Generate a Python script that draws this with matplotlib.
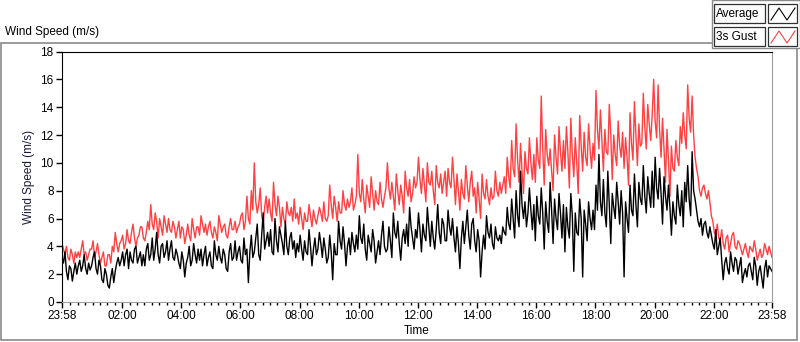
import numpy as np
import matplotlib
matplotlib.use("Agg")
import matplotlib.pyplot as plt
from matplotlib.patches import Rectangle
from matplotlib.lines import Line2D

plt.rcParams['font.family'] = ['Liberation Sans', 'DejaVu Sans']

######### data, one value every 3 minutes from 23:58 (minutes from 00:00)
t = np.arange(-2, 1439, 3)

average = [
    3.2, 2.8, 3.6, 2.2, 1.6, 2.6, 2.4, 1.5, 2.2, 2.8, 2.0, 2.6, 3.0, 2.2, 2.6, 3.4, 2.4, 2.0, 2.8, 2.3,  # 00
    2.6, 3.2, 3.6, 2.4, 2.0, 3.0, 2.6, 1.6, 1.4, 2.4, 2.0, 1.2, 1.0, 1.8, 2.4, 1.4, 2.2, 2.8, 3.2, 2.6,  # 01
    3.0, 3.6, 2.6, 3.4, 3.8, 2.4, 3.6, 3.0, 2.8, 3.8, 4.0, 2.8, 3.2, 3.6, 2.6, 3.4, 2.6, 3.8, 4.2, 3.0,  # 02
    3.4, 4.6, 3.0, 3.8, 5.0, 3.4, 2.8, 4.0, 4.2, 3.2, 3.6, 4.4, 3.0, 3.8, 4.4, 3.2, 3.0, 3.8, 3.4, 2.8,  # 03
    2.4, 3.6, 3.0, 1.8, 2.8, 3.2, 4.0, 2.6, 3.0, 4.2, 3.4, 2.8, 3.8, 3.0, 3.8, 2.6, 3.4, 4.0, 2.6, 3.2,  # 04
    3.6, 2.6, 2.4, 4.4, 3.4, 3.0, 4.0, 3.2, 2.8, 3.8, 3.4, 2.4, 2.2, 3.6, 4.2, 3.0, 3.2, 4.4, 3.0, 3.6,  # 05
    4.0, 3.0, 2.8, 4.6, 3.4, 3.8, 1.4, 3.6, 4.8, 3.2, 3.6, 4.6, 5.6, 3.4, 3.0, 4.8, 6.4, 3.8, 4.4, 5.0,  # 06
    4.0, 5.2, 3.6, 3.4, 6.0, 4.4, 3.6, 5.4, 4.8, 4.2, 3.4, 5.8, 4.0, 3.4, 4.6, 5.0, 3.8, 4.4, 3.2, 4.2,  # 07
    3.6, 4.8, 3.8, 3.0, 4.4, 3.6, 3.4, 5.2, 4.0, 2.6, 3.8, 4.6, 3.4, 3.8, 5.0, 4.2, 3.2, 4.6, 3.8, 2.8,  # 08
    3.2, 4.8, 3.6, 1.6, 4.2, 3.4, 3.4, 5.8, 4.4, 3.8, 5.4, 4.2, 2.6, 4.0, 4.6, 3.4, 5.0, 4.2, 3.6, 4.8,  # 09
    3.8, 6.2, 4.6, 4.2, 5.6, 3.8, 3.0, 4.8, 4.2, 3.6, 5.2, 4.4, 2.8, 3.6, 4.4, 3.4, 4.8, 5.8, 4.0, 3.6,  # 10
    3.8, 5.4, 4.4, 3.2, 6.4, 5.0, 4.6, 5.8, 4.2, 3.0, 4.6, 5.2, 4.2, 5.6, 4.0, 6.8, 5.4, 4.6, 3.8, 5.2,  # 11
    4.6, 6.4, 5.2, 3.6, 5.6, 4.8, 4.4, 6.8, 5.4, 4.0, 5.8, 4.6, 3.8, 5.2, 7.0, 5.0, 4.2, 6.0, 5.6, 4.4,  # 12
    4.4, 6.6, 5.4, 4.8, 6.0, 4.6, 3.6, 5.4, 4.2, 2.4, 4.6, 5.8, 4.2, 5.4, 6.6, 4.8, 3.8, 5.6, 6.0, 4.4,  # 13
    3.6, 5.2, 4.4, 1.8, 3.6, 4.8, 3.8, 6.2, 5.0, 4.6, 5.6, 4.2, 3.8, 5.4, 4.6, 4.4, 4.8, 4.2, 5.4, 5.0,  # 14
    4.8, 6.8, 5.6, 5.2, 7.4, 6.0, 4.6, 8.0, 6.2, 5.4, 9.4, 7.0, 6.0, 7.2, 5.4, 6.4, 8.2, 6.6, 5.2, 7.0,  # 15
    4.4, 7.6, 6.2, 5.6, 8.2, 6.4, 3.8, 7.2, 5.8, 5.0, 8.6, 6.6, 4.2, 7.4, 6.0, 5.2, 7.8, 6.4, 4.6, 7.0,  # 16
    3.6, 6.8, 5.4, 4.6, 7.8, 6.2, 2.2, 6.4, 5.0, 4.8, 7.4, 6.0, 1.8, 6.6, 5.6, 4.4, 7.2, 6.0, 5.2, 6.6,  # 17
    5.2, 8.4, 6.6, 10.6, 7.2, 6.2, 8.8, 6.4, 5.4, 9.4, 7.0, 4.2, 7.8, 6.8, 6.0, 8.6, 7.2, 5.6, 8.0, 6.4,  # 18
    1.8, 7.2, 6.0, 5.0, 8.4, 6.6, 6.2, 9.2, 7.0, 5.4, 8.6, 7.4, 7.0, 9.8, 7.6, 6.4, 9.0, 7.8, 6.8, 9.4,  # 19
    6.8, 10.4, 8.2, 7.4, 9.6, 7.8, 5.6, 9.0, 7.6, 6.6, 8.4, 6.8, 4.8, 7.2, 6.2, 5.6, 8.4, 7.0, 6.2, 8.0,  # 20
    5.4, 8.6, 7.2, 9.8, 7.4, 6.2, 10.8, 8.0, 7.4, 6.6, 5.8, 5.4, 6.0, 4.8, 5.6, 5.8, 5.0, 4.6, 5.4, 4.8,  # 21
    4.2, 3.8, 5.2, 3.4, 4.0, 4.6, 3.0, 1.6, 2.8, 3.2, 2.4, 2.0, 3.6, 2.8, 2.2, 3.2, 3.0, 2.0, 2.6, 3.2,  # 22
    1.4, 2.0, 2.4, 1.8, 2.6, 2.8, 2.2, 1.6, 3.2, 2.6, 1.2, 2.2, 2.6, 1.8, 1.0, 2.4, 3.0, 1.8, 2.6, 2.4,  # 23
    2.2]

gust = [
    4.2, 3.8, 3.4, 4.0, 3.2, 3.0, 3.8, 3.4, 2.8, 3.6, 3.2, 3.6, 3.2, 3.8, 4.4, 3.4, 3.6, 3.0, 3.4, 3.8,
    3.8, 4.4, 3.2, 3.6, 4.2, 3.4, 2.8, 3.2, 3.6, 2.6, 2.6, 3.4, 3.4, 2.8, 4.0, 3.6, 5.0, 4.2, 3.6, 4.2,
    4.4, 4.8, 3.8, 4.2, 5.2, 4.4, 4.2, 5.0, 5.6, 4.6, 4.0, 4.6, 4.8, 5.4, 5.4, 4.6, 4.4, 5.0, 5.8, 5.2,
    7.0, 5.6, 5.2, 6.4, 5.8, 4.6, 6.0, 5.4, 4.8, 6.2, 5.6, 5.0, 6.0, 5.2, 5.0, 5.8, 5.4, 4.6, 5.2, 5.8,
    4.6, 5.4, 5.2, 4.2, 4.8, 5.6, 4.8, 4.4, 6.0, 5.2, 4.6, 5.4, 5.4, 4.8, 6.2, 5.6, 5.0, 5.6, 4.8, 5.4,
    5.8, 5.0, 4.6, 5.4, 5.0, 4.4, 6.2, 5.6, 5.0, 5.4, 5.6, 4.8, 4.6, 5.4, 6.0, 5.2, 5.2, 5.8, 5.0, 5.4,
    5.6, 6.2, 6.4, 5.2, 5.8, 7.6, 6.0, 5.6, 8.0, 6.6, 10.0, 7.2, 6.4, 7.0, 8.2, 6.2, 5.6, 6.8, 7.6, 6.4,
    7.4, 6.4, 5.8, 8.6, 7.0, 6.2, 7.6, 6.8, 5.4, 6.8, 6.0, 5.6, 7.2, 6.4, 6.2, 6.8, 5.8, 7.4, 6.0, 6.4,
    5.6, 6.8, 6.0, 5.2, 6.4, 5.8, 5.8, 7.0, 6.2, 5.4, 6.6, 6.0, 5.6, 6.2, 6.8, 6.4, 5.8, 7.2, 6.0, 5.8,
    6.2, 8.4, 7.0, 6.0, 7.6, 6.8, 5.8, 7.2, 6.4, 6.4, 8.0, 7.0, 6.6, 7.4, 6.8, 7.2, 8.2, 6.6, 7.0, 7.6,
    10.6, 7.8, 7.2, 8.8, 7.4, 6.4, 8.4, 7.6, 6.8, 9.0, 7.8, 6.6, 8.0, 7.2, 7.0, 8.6, 7.4, 6.8, 7.6, 8.2,
    10.0, 8.2, 7.4, 8.6, 7.6, 6.6, 9.2, 8.0, 7.0, 8.4, 7.6, 6.4, 9.4, 8.2, 7.6, 8.8, 7.2, 7.8, 9.0, 8.2,
    8.6, 10.4, 8.8, 7.8, 9.6, 8.4, 7.2, 10.0, 8.6, 8.4, 9.4, 8.0, 7.0, 9.8, 8.6, 8.2, 9.2, 7.8, 8.6, 9.4,
    7.6, 9.6, 8.6, 8.2, 10.4, 8.8, 7.0, 9.2, 8.0, 6.6, 8.8, 7.8, 7.4, 9.8, 8.4, 7.2, 8.6, 9.4, 7.6, 8.2,
    6.4, 8.6, 7.4, 6.0, 9.2, 7.8, 7.4, 8.8, 7.6, 7.0, 8.2, 7.4, 7.6, 9.4, 8.0, 7.6, 8.6, 7.8, 8.4, 9.0,
    7.8, 10.4, 9.0, 8.2, 11.6, 9.6, 9.0, 12.8, 10.2, 8.6, 11.4, 9.4, 7.8, 10.8, 9.6, 9.2, 11.8, 10.0, 8.8, 10.6,
    8.6, 11.8, 10.2, 9.6, 14.8, 11.0, 8.4, 12.4, 10.6, 9.8, 11.0, 9.4, 8.0, 12.0, 10.4, 9.2, 12.6, 10.8, 9.4, 11.6,
    9.6, 12.6, 10.8, 8.2, 13.2, 10.6, 9.0, 11.8, 10.0, 7.8, 13.4, 11.2, 9.4, 12.2, 10.4, 9.8, 12.8, 11.0, 9.6, 11.4,
    10.2, 15.2, 12.4, 11.0, 13.8, 11.6, 9.4, 12.4, 10.8, 10.6, 14.2, 12.0, 8.8, 12.0, 10.6, 9.8, 13.0, 11.2, 10.4, 12.2,
    9.6, 11.8, 10.4, 8.4, 13.6, 11.4, 10.2, 14.4, 12.0, 9.8, 12.8, 11.2, 11.4, 15.0, 12.6, 11.0, 14.2, 12.8, 11.6, 13.4,
    16.0, 13.0, 11.8, 15.6, 12.4, 10.4, 13.2, 11.0, 8.6, 12.4, 10.2, 7.6, 11.2, 9.6, 9.4, 11.6, 10.4, 9.8, 12.6, 11.4,
    13.6, 12.0, 11.0, 15.6, 13.2, 12.2, 14.8, 12.0, 10.4, 9.6, 9.0, 8.0, 7.6, 8.2, 8.4, 7.8, 7.4, 8.0, 7.2, 6.2,
    5.8, 5.0, 4.8, 5.6, 4.6, 4.4, 5.2, 4.2, 3.8, 4.6, 4.8, 3.6, 4.2, 4.8, 5.0, 4.0, 3.8, 4.4, 4.2, 3.8,
    3.4, 3.8, 4.2, 3.6, 3.2, 4.0, 3.8, 3.6, 4.4, 3.8, 3.0, 3.4, 3.8, 3.2, 3.4, 4.2, 3.8, 3.4, 4.0, 3.6,
    3.2]

tick_pos = [-2, 120, 240, 360, 480, 600, 720, 840, 960, 1080, 1200, 1320, 1438]
tick_lab = ['23:58', '02:00', '04:00', '06:00', '08:00', '10:00', '12:00',
            '14:00', '16:00', '18:00', '20:00', '22:00', '23:58']

W, H = 800, 342
fig = plt.figure(figsize=(W/100, H/100), dpi=100)

def fx(px):
    return px / W
def fy(py):
    return 1 - py / H

ax = fig.add_axes([fx(62), fy(302), fx(772) - fx(62), fy(51.5) - fy(302)])
ax.plot(t, gust, color='#ff4040', lw=1.0)
ax.plot(t, average, color='black', lw=1.0)

ax.set_xlim(-2, 1438)
ax.set_ylim(0, 18)
ax.set_yticks(range(0, 19, 2))
ax.set_xticks(tick_pos)
ax.set_xticklabels(tick_lab)
ax.set_xticks(np.arange(15, 1438, 15), minor=True)
ax.tick_params(axis='both', which='major', length=4, width=1, labelsize=8.5, pad=2)
ax.tick_params(axis='x', which='minor', length=2.5, width=1)
for s in ['top', 'left']:
    ax.spines[s].set_color('black')
for s in ['right', 'bottom']:
    ax.spines[s].set_color('#a0a0a0')
ax.set_xlabel('Time', fontsize=8.5, labelpad=2)
ax.set_ylabel('Wind Speed (m/s)', fontsize=8.5, color='#1a1a3a', labelpad=4)

# outer panel frame
fig.add_artist(Rectangle((fx(1), fy(340)), fx(796), fy(43) - fy(340),
                         transform=fig.transFigure, fill=False,
                         edgecolor='#8a8a8a', lw=1.2))
fig.text(fx(5), fy(32), 'Wind Speed (m/s)', fontsize=8.5, va='center', ha='left')

# legend panel
fig.add_artist(Rectangle((fx(712), fy(48)), fx(88), fy(0) - fy(48),
                         transform=fig.transFigure, facecolor='white',
                         edgecolor='#8a8a8a', lw=1.0))
for row, (name, col) in enumerate([('Average', 'black'), ('3s Gust', '#ff4040')]):
    top = 4 + row * 23
    fig.add_artist(Rectangle((fx(714), fy(top + 19)), fx(51), fy(top) - fy(top + 19),
                             transform=fig.transFigure, facecolor='#fbfbfb',
                             edgecolor='#303030', lw=0.9))
    fig.text(fx(716), fy(top + 10), name, fontsize=8.5, va='center', ha='left')
    fig.add_artist(Rectangle((fx(768), fy(top + 19)), fx(29), fy(top) - fy(top + 19),
                             transform=fig.transFigure, facecolor='white',
                             edgecolor='#303030', lw=0.9))
    zx = [771, 779, 787, 795]
    zy = [top + 16, top + 4, top + 16, top + 4]
    fig.add_artist(Line2D([fx(v) for v in zx], [fy(v) for v in zy],
                          transform=fig.transFigure, color=col, lw=0.8))

fig.savefig('out.png', dpi=100)
